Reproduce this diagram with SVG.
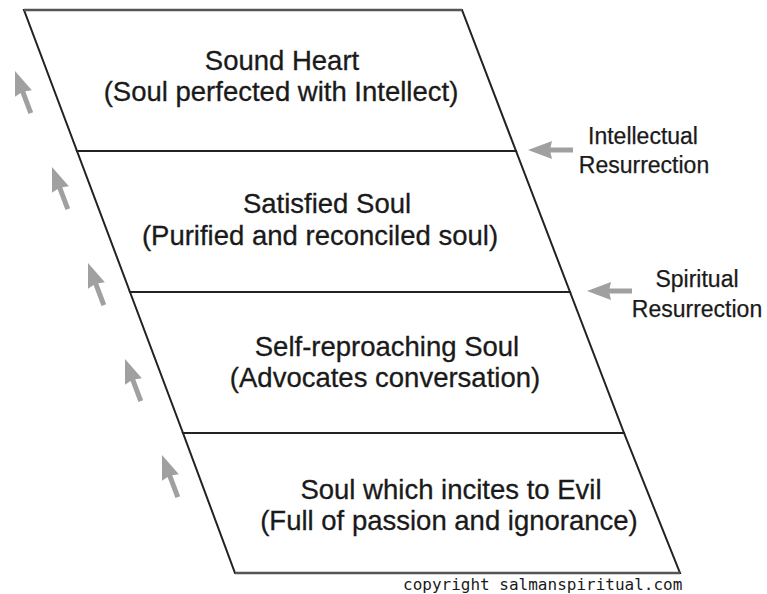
<svg xmlns="http://www.w3.org/2000/svg" width="767" height="594" viewBox="0 0 767 594">
  <style>
    .band { fill: #ffffff; stroke: #222222; stroke-width: 2; stroke-linejoin: miter; }
    .edge { fill: none; stroke: #555555; stroke-width: 2.6; }
    .t { font-family: "Liberation Sans", Arial, sans-serif; font-size: 27.5px; fill: #1a1a1a; stroke: #1a1a1a; stroke-width: 0.3; text-anchor: middle; }
    .lbl { font-family: "Liberation Sans", Arial, sans-serif; font-size: 23px; fill: #1a1a1a; stroke: #1a1a1a; stroke-width: 0.25; text-anchor: middle; }
    .copy { font-family: "DejaVu Sans Mono", "Liberation Mono", monospace; font-size: 16px; fill: #1a1a1a; }
    .arr { fill: #a0a0a0; }
  </style>
  <defs>
    <path id="arrow" d="M0,0 L-24,-9 L-22.5,-2.5 L-45,-2.5 L-45,2.5 L-22.5,2.5 L-24,9 Z"/>
  </defs>
  <rect width="767" height="594" fill="#ffffff"/>

  <g id="sound-heart">
    <polygon class="band" points="24,10 462,10 516,151 77,151"/>
    <text class="t" x="282" y="70">Sound Heart</text>
    <text class="t" x="281" y="101">(Soul perfected with Intellect)</text>
  </g>
  <g id="satisfied-soul">
    <polygon class="band" points="77,151 516,151 570,292 130,292"/>
    <text class="t" x="327" y="213">Satisfied Soul</text>
    <text class="t" x="320" y="245">(Purified and reconciled soul)</text>
  </g>
  <g id="self-reproaching-soul">
    <polygon class="band" points="130,292 570,292 624,433 183,433"/>
    <text class="t" x="387" y="356">Self-reproaching Soul</text>
    <text class="t" x="385" y="387">(Advocates conversation)</text>
  </g>
  <g id="soul-incites-evil">
    <polygon class="band" points="183,433 624,433 680,573 235,573"/>
    <text class="t" x="451" y="499">Soul which incites to Evil</text>
    <text class="t" x="449" y="530">(Full of passion and ignorance)</text>
  </g>
  <line class="edge" x1="24" y1="10" x2="462" y2="10"/>
  <line class="edge" x1="235" y1="573" x2="680" y2="573"/>

  <g id="intellectual-resurrection">
    <text class="lbl" x="643" y="144">Intellectual</text>
    <text class="lbl" x="644" y="173">Resurrection</text>
  </g>
  <g id="spiritual-resurrection">
    <text class="lbl" x="697" y="287">Spiritual</text>
    <text class="lbl" x="697" y="317">Resurrection</text>
  </g>

  <g id="connectors">
    <use href="#arrow" class="arr" transform="translate(528,150) rotate(180)"/>
    <use href="#arrow" class="arr" transform="translate(587,291) rotate(180)"/>
    <use href="#arrow" class="arr" transform="translate(15,71) rotate(-110.56)"/>
    <use href="#arrow" class="arr" transform="translate(52,167) rotate(-110.56)"/>
    <use href="#arrow" class="arr" transform="translate(88,263) rotate(-110.56)"/>
    <use href="#arrow" class="arr" transform="translate(125,359) rotate(-110.56)"/>
    <use href="#arrow" class="arr" transform="translate(162,455) rotate(-110.56)"/>
  </g>

  <text class="copy" x="403" y="590">copyright salmanspiritual.com</text>
</svg>
